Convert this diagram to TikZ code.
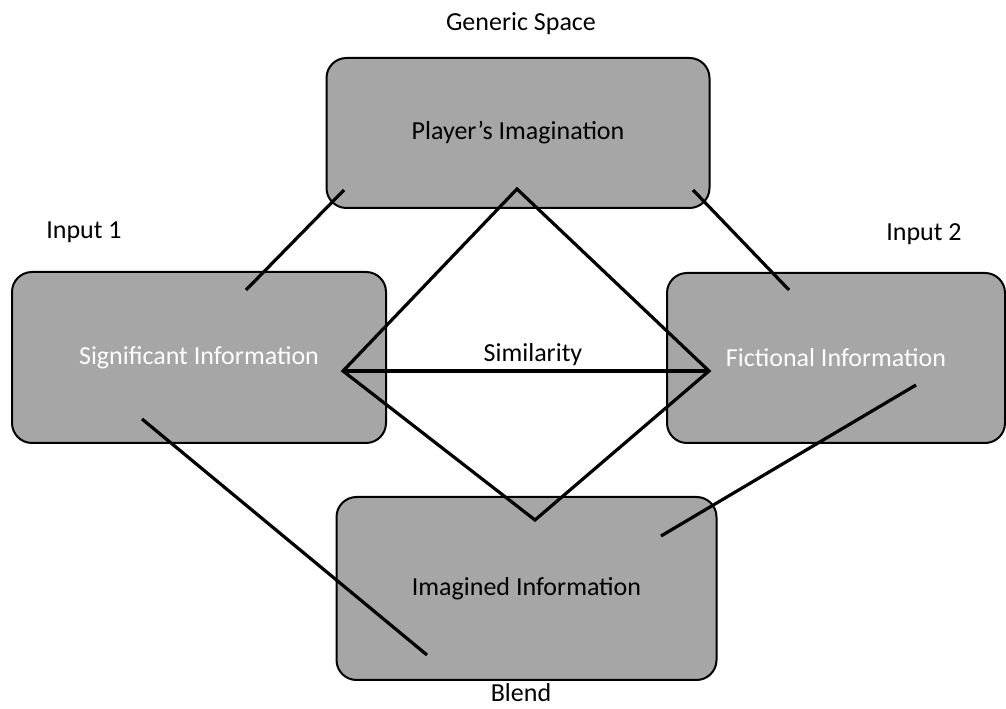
\documentclass[tikz,border=0pt]{standalone}
\usepackage{fontspec}
\setmainfont{Carlito}
\usepackage{tikz}
\usetikzlibrary{positioning}
\definecolor{boxgray}{RGB}{166,166,166}

\begin{document}
\begin{tikzpicture}[x=1pt,y=1pt,
	space/.style={draw=black, line width=2pt, fill=boxgray, rounded corners=20pt, inner sep=0pt},
	tag/.style={font=\fontsize{26}{30}\selectfont},
	link/.style={line width=3.2pt}]
				\useasboundingbox (0,0) rectangle (1006,709);
				
				\node[space,tag,minimum width=383pt,minimum height=150pt] (imag) at (518,576) {Player's Imagination};
				\node[space,tag,text=white,minimum width=374pt,minimum height=171pt] (sig) at (199,351.5) {Significant Information};
				\node[space,tag,text=white,minimum width=338pt,minimum height=170pt] (fict) at (836,351) {Fictional Information};
				\node[space,tag,minimum width=380pt,minimum height=183pt] (imgd) at (526.5,120.5) {Imagined Information};
				
				\node[tag] (generic) at (521,685) {Generic Space};
				\node[tag] (in1) at (84,477) {Input 1};
				\node[tag] (in2) at (924,475) {Input 2};
				\node[tag,anchor=base,inner sep=0pt] (blend) at (521,7) {Blend};
				\node[tag] (simil) at (533,354) {Similarity};
				
				%%%%%%%%%%%%%%%%%%%%%%%%%%%%%%
				
				\coordinate (gTop) at (517,520);
				\coordinate (gL) at (344,519);
				\coordinate (gR) at (693,519);
				\coordinate (sR) at (343,338);
				\coordinate (sT) at (246,419);
				\coordinate (sB) at (142,290);
				\coordinate (fL) at (709,338);
				\coordinate (fT) at (789,419);
				\coordinate (fB) at (916,324);
				\coordinate (iTop) at (535,189);
				\coordinate (iL) at (427,54);
				\coordinate (iR) at (661,173);
				
				\draw[link] (gL) -- (sT);
				\draw[link] (gR) -- (fT);
				\draw[link] (gTop) -- (sR) -- (iTop) -- (fL) -- cycle;
				\draw[link] (sR) -- (fL);
				\draw[link] (sB) -- (iL);
				\draw[link] (fB) -- (iR);
				
\end{tikzpicture}
\end{document}
